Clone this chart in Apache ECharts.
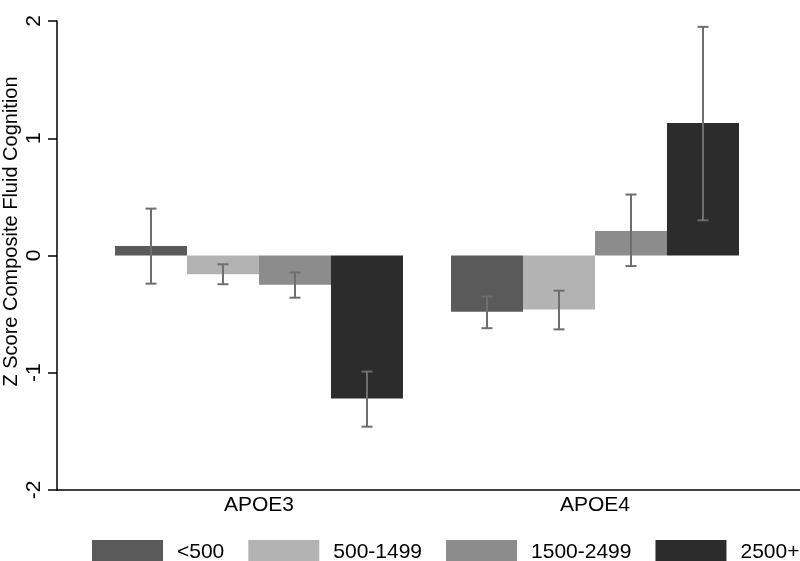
<!DOCTYPE html>
<html>
<head>
<meta charset="utf-8">
<script src="https://cdn.jsdelivr.net/npm/echarts@6/dist/echarts.min.js"></script>
<style>
html,body{margin:0;padding:0;background:#fff;}
#c{width:800px;height:561px;}
</style>
</head>
<body>
<div id="c"></div>
<script>
const categories = ['APOE3', 'APOE4'];
const seriesNames = ['<500', '500-1499', '1500-2499', '2500+'];
const means = [
  [0.08, -0.48],
  [-0.16, -0.46],
  [-0.25, 0.21],
  [-1.22, 1.13]
];
const errLow = [
  [-0.24, -0.62],
  [-0.245, -0.63],
  [-0.36, -0.09],
  [-1.46, 0.30]
];
const errHigh = [
  [0.40, -0.35],
  [-0.075, -0.30],
  [-0.145, 0.52],
  [-0.99, 1.95]
];
const yTicks = [-2, -1, 0, 1, 2];

const colors = ['#5a5a5a', '#b3b3b3', '#8c8c8c', '#2c2c2c'];
const catGap = 0.143;
const font = 'Liberation Sans, Arial, sans-serif';

const chart = echarts.init(document.getElementById('c'), null, {renderer: 'canvas'});

const series = [];
seriesNames.forEach((n, k) => {
  series.push({
    name: n, type: 'bar', xAxisIndex: 1, yAxisIndex: 1,
    data: means[k], barGap: '0%', barCategoryGap: (catGap * 100) + '%',
    itemStyle: {color: colors[k]}, silent: true
  });
});
seriesNames.forEach((n, k) => {
  series.push({
    name: 'err' + k, type: 'custom', xAxisIndex: 1, yAxisIndex: 1,
    encode: {x: 0, y: [1, 2]}, silent: true, z: 5,
    data: categories.map((c, i) => [i, errLow[k][i], errHigh[k][i]]),
    renderItem: function (params, api) {
      const ci = api.value(0);
      const lo = api.coord([ci, api.value(1)]);
      const hi = api.coord([ci, api.value(2)]);
      const band = api.size([1, 0])[0];
      const bw = band * (1 - catGap) / seriesNames.length;
      const x = lo[0] + (k - (seriesNames.length - 1) / 2) * bw;
      const cap = 5.5;
      const st = {stroke: '#6e6e6e', lineWidth: 2};
      return {
        type: 'group',
        children: [
          {type: 'line', shape: {x1: x, y1: lo[1], x2: x, y2: hi[1]}, style: st},
          {type: 'line', shape: {x1: x - cap, y1: lo[1], x2: x + cap, y2: lo[1]}, style: st},
          {type: 'line', shape: {x1: x - cap, y1: hi[1], x2: x + cap, y2: hi[1]}, style: st}
        ]
      };
    }
  });
});

chart.setOption({
  animation: false,
  backgroundColor: '#ffffff',
  textStyle: {fontFamily: font},
  grid: [
    {left: 57, right: 0, top: 21, bottom: 71, containLabel: false, outerBoundsMode: 'none'},
    {left: 91, right: 37, top: 21, bottom: 71, containLabel: false, outerBoundsMode: 'none'}
  ],
  legend: {
    data: seriesNames,
    left: 87, top: 535, width: 780,
    icon: 'rect', itemWidth: 71, itemHeight: 25, itemGap: 24,
    selectedMode: false,
    textStyle: {fontFamily: font, fontSize: 21, color: '#000', padding: [0, 0, 0, 9]}
  },
  xAxis: [
    {
      type: 'value', gridIndex: 0, min: 0, max: 1,
      axisLine: {show: true, onZero: false, lineStyle: {color: '#000', width: 1.5}},
      axisTick: {show: false}, axisLabel: {show: false}, splitLine: {show: false}
    },
    {
      type: 'category', gridIndex: 1, data: categories,
      axisLine: {show: false}, axisTick: {show: false},
      axisLabel: {fontFamily: font, fontSize: 21, color: '#000', margin: 5}
    }
  ],
  yAxis: [
    {
      type: 'value', gridIndex: 0, min: yTicks[0], max: yTicks[yTicks.length - 1], interval: 1,
      name: 'Z Score Composite Fluid Cognition', nameLocation: 'middle', nameGap: 36,
      nameMoveOverlap: false,
      nameTextStyle: {fontFamily: font, fontSize: 20, color: '#000', padding: [0, 0, 0, 48]},
      axisLine: {show: true, lineStyle: {color: '#000', width: 1.5}},
      axisTick: {show: true, length: 9, lineStyle: {color: '#000', width: 1.5}},
      axisLabel: {rotate: 90, fontFamily: font, fontSize: 21, color: '#000', margin: 12},
      splitLine: {show: false}
    },
    {
      type: 'value', gridIndex: 1, min: yTicks[0], max: yTicks[yTicks.length - 1], interval: 1,
      show: false, splitLine: {show: false}
    }
  ],
  series: series
});
</script>
</body>
</html>
